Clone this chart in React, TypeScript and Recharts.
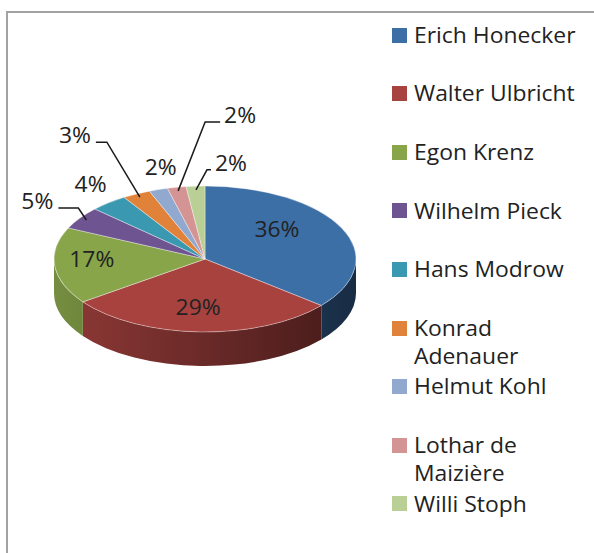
import React from 'react';
import { PieChart, Pie, Cell, Legend } from 'recharts';

// ---- data ----
const leaders = [
  'Erich Honecker',
  'Walter Ulbricht',
  'Egon Krenz',
  'Wilhelm Pieck',
  'Hans Modrow',
  'Konrad Adenauer',
  'Helmut Kohl',
  'Lothar de Maizière',
  'Willi Stoph',
];
const shares = [36, 29, 17, 5, 4, 3, 2, 2, 2];
const sliceColors = ['#3D6FA7', '#A8423F', '#88A54A', '#6E5490', '#3B98B1', '#E0823A', '#92A9CF', '#D49493', '#B9CF96'];

const data = leaders.map((name, i) => ({ name, value: shares[i] }));

// ---- layout / style ----
const W = 594;
const H = 553;
const CX = 205;
const CY = 259;
const R = 151;
const K = 73 / 151; // vertical squash of the tilted pie
const DEPTH = 34;
const FONT = '"Open Sans", Lato, sans-serif';
const STRETCH = 1.09;
const RAD = Math.PI / 180;

// label placement per slice (style)
const labelLayout: any[] = [
  { kind: 'in', r: 0.6, dx: -10, dy: -11 },
  { kind: 'in', r: 0.6, dx: -4, dy: 4 },
  { kind: 'in', r: 0.6, dx: -23, dy: -4 },
  { kind: 'leader', dx: -8, dy: -12, hook: -20 },
  { kind: 'plain', dx: -7, dy: -14, anchor: 'end' },
  { kind: 'leader', dx: -33, dy: -55, hook: -11 },
  { kind: 'plain', dx: 0, dy: -18, anchor: 'middle' },
  { kind: 'leader', dx: 27, dy: -69, hook: 15 },
  { kind: 'leader', dx: 11, dy: -20, hook: 4 },
];

const ell = (cx: number, cy: number, r: number, a: number) => [
  cx + r * Math.cos(a * RAD),
  cy - r * K * Math.sin(a * RAD),
];

function shade(hex: string, f: number) {
  const n = parseInt(hex.slice(1), 16);
  const r = Math.round(((n >> 16) & 255) * f);
  const g = Math.round(((n >> 8) & 255) * f);
  const b = Math.round((n & 255) * f);
  return `rgb(${r},${g},${b})`;
}

function Slice3D(props: any) {
  const { cx, cy, outerRadius, startAngle, endAngle, fill } = props;
  const r = outerRadius;
  const s = Math.max(startAngle, endAngle);
  const e = Math.min(startAngle, endAngle);
  const [x1, y1] = ell(cx, cy, r, s);
  const [x2, y2] = ell(cx, cy, r, e);
  const large = s - e > 180 ? 1 : 0;
  const top = `M${cx},${cy} L${x1},${y1} A${r},${r * K} 0 ${large} 1 ${x2},${y2} Z`;
  const sides: string[] = [];
  for (let n = -2; n <= 1; n++) {
    const lo = Math.max(e, 180 + 360 * n);
    const hi = Math.min(s, 360 + 360 * n);
    if (hi > lo) {
      const [ax, ay] = ell(cx, cy, r, hi);
      const [bx, by] = ell(cx, cy, r, lo);
      sides.push(
        `M${ax},${ay} A${r},${r * K} 0 0 1 ${bx},${by} L${bx},${by + DEPTH} A${r},${r * K} 0 0 0 ${ax},${ay + DEPTH} Z`
      );
    }
  }
  const gid = `side-${String(fill).replace('#', '')}`;
  return (
    <g>
      <defs>
        <linearGradient id={gid} gradientUnits="userSpaceOnUse" x1={cx - r} y1={0} x2={cx + r} y2={0}>
          <stop offset="0" stopColor={shade(fill, 0.86)} />
          <stop offset="0.5" stopColor={shade(fill, 0.63)} />
          <stop offset="1" stopColor={shade(fill, 0.4)} />
        </linearGradient>
      </defs>
      {sides.map((d, i) => (
        <path key={i} d={d} fill={`url(#${gid})`} stroke="none" />
      ))}
      <path d={top} fill={fill} stroke="rgba(255,255,255,0.55)" strokeWidth={0.7} />
    </g>
  );
}

function StretchText({ x, y, anchor, baseline, children }: any) {
  return (
    <text
      transform={`translate(${x},${y}) scale(${STRETCH},1)`}
      x={0}
      y={0}
      textAnchor={anchor}
      dominantBaseline={baseline}
      fontFamily={FONT}
      fontSize={21}
      fill="#222"
    >
      {children}
    </text>
  );
}

function renderLabel(props: any) {
  const { cx, cy, midAngle, outerRadius, index, percent } = props;
  const lay = labelLayout[index];
  const text = `${Math.round(percent * 100)}%`;
  if (lay.kind === 'in') {
    const [x, y] = ell(cx, cy, outerRadius * lay.r, midAngle);
    return (
      <StretchText key={`l${index}`} x={x + lay.dx} y={y + lay.dy} anchor="middle" baseline="central">
        {text}
      </StretchText>
    );
  }
  const [ax, ay] = ell(cx, cy, outerRadius * 0.95, midAngle);
  if (lay.kind === 'plain') {
    return (
      <StretchText key={`l${index}`} x={ax + lay.dx} y={ay + lay.dy} anchor={lay.anchor}>
        {text}
      </StretchText>
    );
  }
  const bx = ax + lay.dx;
  const by = ay + lay.dy;
  const cxp = bx + lay.hook;
  const left = lay.hook < 0;
  return (
    <g key={`l${index}`}>
      <polyline points={`${ax},${ay} ${bx},${by} ${cxp},${by}`} fill="none" stroke="#1a1a1a" strokeWidth={1.5} />
      <StretchText x={left ? cxp - 5 : cxp + 4} y={by + 1} anchor={left ? 'end' : 'start'}>
        {text}
      </StretchText>
    </g>
  );
}

function LegendBox(props: any) {
  const payload = [...(props.payload || [])].sort(
    (a: any, b: any) => leaders.indexOf(a.value) - leaders.indexOf(b.value)
  );
  return (
    <div style={{ position: 'relative', width: 200, height: H }}>
      {payload.map((entry: any, i: number) => {
        const yc = 35 + 58.6 * i;
        return (
          <div key={i}>
            <div
              style={{
                position: 'absolute',
                left: 0,
                top: yc - 7.5,
                width: 15,
                height: 15,
                background: entry.color,
              }}
            />
            <div
              style={{
                position: 'absolute',
                left: 22,
                top: yc - 14.25,
                width: 156,
                lineHeight: '28.5px',
                fontFamily: FONT,
                fontSize: 21,
                color: '#222',
                textAlign: 'left',
                transform: `scaleX(${STRETCH})`,
                transformOrigin: '0 0',
              }}
            >
              {entry.value}
            </div>
          </div>
        );
      })}
    </div>
  );
}

export default function App() {
  return (
    <div style={{ position: 'absolute', left: 0, top: 0, width: W, height: H, overflow: 'hidden', background: '#fff' }}>
      <div
        style={{
          position: 'absolute',
          left: 6,
          top: 11,
          width: W,
          height: H,
          borderLeft: '2px solid #a3a3a3',
          borderTop: '2px solid #a3a3a3',
        }}
      />
      <PieChart width={W} height={H} margin={{ top: 0, right: 0, bottom: 0, left: 0 }}>
        <Pie
          data={data}
          dataKey="value"
          nameKey="name"
          cx={CX}
          cy={CY}
          outerRadius={R}
          startAngle={90}
          endAngle={-270}
          isAnimationActive={false}
          shape={Slice3D}
          inactiveShape={Slice3D}
          label={renderLabel}
          labelLine={false}
          stroke="none"
        >
          {data.map((d, i) => (
            <Cell key={d.name} fill={sliceColors[i]} />
          ))}
        </Pie>
        <Legend
          layout="vertical"
          align="right"
          verticalAlign="top"
          itemSorter={null as any}
          content={LegendBox}
          wrapperStyle={{ position: 'absolute', left: 392, top: 0, width: 200, height: H }}
        />
      </PieChart>
    </div>
  );
}
